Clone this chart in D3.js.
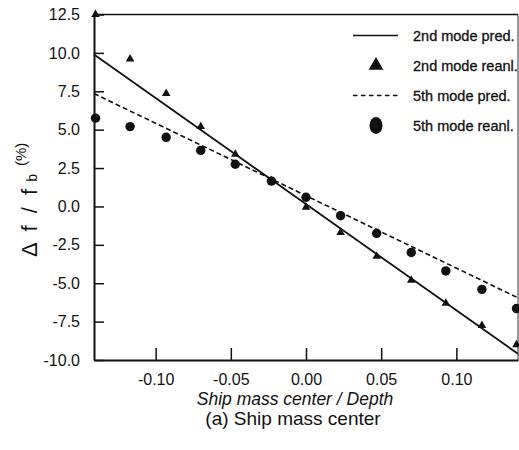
<!DOCTYPE html>
<html>
<head>
<meta charset="utf-8">
<script src="https://cdn.jsdelivr.net/npm/d3@7"></script>
<style>
  body { margin: 0; background: #fff; }
  svg { display: block; }
  .tick text { font-family: "Liberation Sans Narrow", "Arial Narrow", sans-serif; font-size: 16px; fill: #111; }
</style>
</head>
<body>
<svg id="chart" width="519" height="450"></svg>
<script>

// positions along the ship depth ratio
const xValues = [-0.14, -0.117, -0.093, -0.07, -0.047, -0.023, 0, 0.023, 0.047, 0.07, 0.093, 0.117, 0.14];

// measured (reanalysis) values
const mode2Reanl = [12.5, 9.6, 7.35, 5.2, 3.4, 1.7, -0.05, -1.7, -3.25, -4.8, -6.3, -7.75, -9.0];
const mode5Reanl = [5.75, 5.2, 4.5, 3.65, 2.75, 1.65, 0.6, -0.6, -1.75, -3.0, -4.2, -5.4, -6.65];

// predicted lines (end points)
const predX = [-0.141, 0.141];
const mode2Pred = [9.9, -9.6];
const mode5Pred = [7.35, -5.95];

const xTicks = [-0.10, -0.05, 0.00, 0.05, 0.10];
const yTicks = [-10, -7.5, -5, -2.5, 0, 2.5, 5, 7.5, 10, 12.5];

const legendItems = ["2nd mode pred.", "2nd mode reanl.", "5th mode pred.", "5th mode reanl."];

const svg = d3.select("#chart");
const plotL = 94, plotR = 518, plotT = 14.5, plotB = 360;

let x = d3.scaleLinear().domain([-0.141, 0.141]).range([plotL, plotR]);
let y = d3.scaleLinear().domain([-10, 12.5]).range([plotB, plotT]);

// frame (top + right)
svg.append("line").attr("x1", plotL).attr("x2", plotR).attr("y1", plotT).attr("y2", plotT)
    .attr("stroke", "#111").attr("stroke-width", 1.5);
svg.append("line").attr("x1", plotR).attr("x2", plotR).attr("y1", plotT).attr("y2", plotB)
    .attr("stroke", "#333").attr("stroke-width", 1);

// axes, ticks pointing inward
let yAxis = d3.axisLeft(y).tickValues(yTicks).tickFormat(d3.format(".1f"))
    .tickSizeInner(-10).tickSizeOuter(0).tickPadding(14);
let gy = svg.append("g").attr("transform", `translate(${plotL},0)`).call(yAxis);

let xAxis = d3.axisBottom(x).tickValues(xTicks).tickFormat(d3.format(".2f"))
    .tickSizeInner(-12).tickSizeOuter(0).tickPadding(14);
let gx = svg.append("g").attr("transform", `translate(0,${plotB})`).call(xAxis);

[gx, gy].forEach(g => {
    g.select(".domain").attr("stroke", "#111").attr("stroke-width", 2);
    g.selectAll(".tick line").attr("stroke", "#111").attr("stroke-width", 1.5);
});
// plain hyphen for negatives, like the original
gx.selectAll(".tick text").text(d => d3.format(".2f")(d).replace("−", "-"));
gy.selectAll(".tick text").text(d => d3.format(".1f")(d).replace("−", "-"));

// predicted lines
let line = d3.line().x((d, i) => x(predX[i])).y(d => y(d));

svg.append("path").datum(mode2Pred).attr("d", line)
    .attr("fill", "none").attr("stroke", "#111").attr("stroke-width", 1.8);

svg.append("path").datum(mode5Pred).attr("d", line)
    .attr("fill", "none").attr("stroke", "#111").attr("stroke-width", 1.6)
    .attr("stroke-dasharray", "5,3");

// reanalysis points
svg.append("g").selectAll("path").data(mode5Reanl).join("path")
    .attr("transform", (d, i) => `translate(${x(xValues[i])},${y(d)})`)
    .attr("d", d3.symbol(d3.symbolCircle, 70))
    .attr("fill", "#111");

svg.append("g").selectAll("path").data(mode2Reanl).join("path")
    .attr("transform", (d, i) => `translate(${x(xValues[i])},${y(d)})`)
    .attr("d", d3.symbol(d3.symbolTriangle, 32))
    .attr("fill", "#111");

// legend
let lg = svg.append("g");
legendItems.forEach((name, i) => {
    let by = 41 + i * 30;
    let cy = by - 5.5;
    if (i === 0 || i === 2) {
        lg.append("line").attr("x1", 353).attr("x2", 398).attr("y1", cy).attr("y2", cy)
            .attr("stroke", "#111").attr("stroke-width", 1.4)
            .attr("stroke-dasharray", i === 2 ? "4.5,3.5" : null);
    } else if (i === 1) {
        lg.append("path").attr("transform", `translate(376,${cy})`)
            .attr("d", d3.symbol(d3.symbolTriangle, 95)).attr("fill", "#111");
    } else {
        lg.append("ellipse").attr("cx", 376).attr("cy", cy).attr("rx", 6.5).attr("ry", 8.5)
            .attr("fill", "#111");
    }
    lg.append("text").attr("x", 413).attr("y", by)
        .attr("font-family", '"Liberation Sans Narrow", "Arial Narrow", sans-serif')
        .attr("font-size", 14.5).attr("fill", "#111")
        .attr("stroke", "#111").attr("stroke-width", 0.3)
        .text(name);
});

// y axis title
let yt = svg.append("text")
    .attr("transform", "translate(37,257) rotate(-90)")
    .attr("font-family", '"Liberation Sans", Arial, sans-serif')
    .attr("fill", "#111");
yt.append("tspan").attr("font-size", 22).attr("letter-spacing", 3).text("Δ f / f");
yt.append("tspan").attr("font-size", 14).attr("dx", 4).text("b");
yt.append("tspan").attr("font-size", 15).attr("dx", 8).attr("dy", -11).text("(%)");

// x axis title and caption
svg.append("text").attr("x", 295).attr("y", 405).attr("text-anchor", "middle")
    .attr("font-family", '"Liberation Sans", Arial, sans-serif')
    .attr("font-size", 17.5).attr("font-style", "italic").attr("fill", "#111")
    .text("Ship mass center / Depth");

svg.append("text").attr("x", 293).attr("y", 425).attr("text-anchor", "middle")
    .attr("font-family", '"Liberation Sans", Arial, sans-serif')
    .attr("font-size", 19).attr("fill", "#111")
    .text("(a) Ship mass center");

</script>
</body>
</html>
